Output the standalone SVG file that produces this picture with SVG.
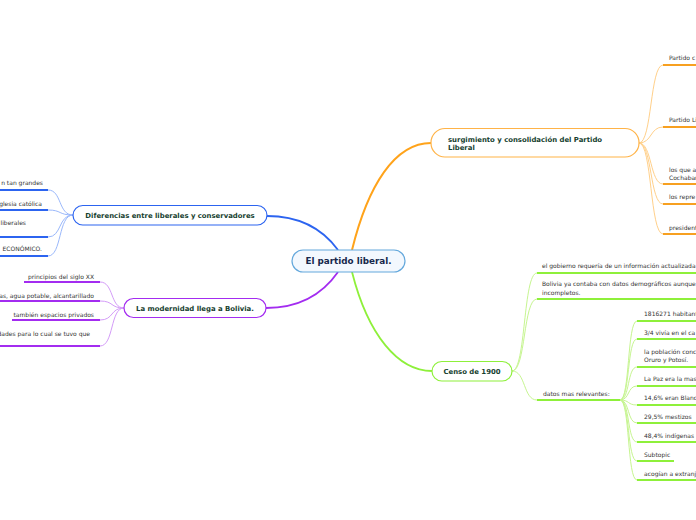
<svg xmlns="http://www.w3.org/2000/svg" width="696" height="520" viewBox="0 0 696 520">
<style>
.t{font-family:"DejaVu Sans",Verdana,sans-serif;font-size:6px;fill:#333}
.tb{font-family:"DejaVu Sans",Verdana,sans-serif;font-size:6.9px;font-weight:bold;fill:#15402e}
.cb{fill:none;stroke:#9ab8fb;stroke-width:1}
.ub{stroke:#2c64f0;stroke-width:2}
.cp{fill:none;stroke:#d49cf8;stroke-width:1}
.up{stroke:#a32cf0;stroke-width:2}
.co{fill:none;stroke:#ffd08a;stroke-width:1}
.uo{stroke:#f7a020;stroke-width:2}
.cg{fill:none;stroke:#c6f590;stroke-width:1}
.ug{stroke:#8ef03a;stroke-width:2}
</style>
<rect width="696" height="520" fill="#fff"/>
<g id="connectors">
  <path d="M338,250 C322,228 300,216 267,216" fill="none" stroke="#2c64f0" stroke-width="1.8"/>
  <path d="M352,250 C368,185 395,143 431,143" fill="none" stroke="#ffa31a" stroke-width="2"/>
  <path d="M338,272 C322,295 298,308 266,308" fill="none" stroke="#a32cf0" stroke-width="1.8"/>
  <path d="M352,272 C368,335 398,371 432,371" fill="none" stroke="#8ef03a" stroke-width="1.8"/>
  <!-- blue -->
  <path class="cb" d="M73,215 C58,215 62,190 48,190"/>
  <path class="cb" d="M73,215 C58,215 62,210 48,210"/>
  <path class="cb" d="M73,215 C58,215 62,237 48,237"/>
  <path class="cb" d="M73,215 C58,215 62,256 48,256"/>
  <line class="ub" x1="0" y1="190" x2="48" y2="190"/>
  <line class="ub" x1="0" y1="210" x2="48" y2="210"/>
  <line class="ub" x1="0" y1="237" x2="48" y2="237"/>
  <line class="ub" x1="0" y1="256" x2="48" y2="256"/>
  <!-- purple -->
  <path class="cp" d="M124,308 C110,308 114,282 100,282"/>
  <path class="cp" d="M124,308 C110,308 114,301 100,301"/>
  <path class="cp" d="M124,308 C110,308 114,320 100,320"/>
  <path class="cp" d="M124,308 C110,308 114,346 100,346"/>
  <line class="up" x1="24" y1="282" x2="100" y2="282"/>
  <line class="up" x1="0" y1="301" x2="100" y2="301"/>
  <line class="up" x1="12" y1="320" x2="100" y2="320"/>
  <line class="up" x1="0" y1="346" x2="100" y2="346"/>
  <!-- orange -->
  <path class="co" d="M639,143 C652,143 650,65 663,65"/>
  <path class="co" d="M639,143 C652,143 650,127 663,127"/>
  <path class="co" d="M639,143 C652,143 650,184 663,184"/>
  <path class="co" d="M639,143 C652,143 650,204 663,204"/>
  <path class="co" d="M639,143 C652,143 650,234 663,234"/>
  <line class="uo" x1="663" y1="65" x2="696" y2="65"/>
  <line class="uo" x1="663" y1="127" x2="696" y2="127"/>
  <line class="uo" x1="663" y1="184" x2="696" y2="184"/>
  <line class="uo" x1="663" y1="204" x2="696" y2="204"/>
  <line class="uo" x1="663" y1="234" x2="696" y2="234"/>
  <!-- green -->
  <path class="cg" d="M512,371 C526,371 523,273 537,273"/>
  <path class="cg" d="M512,371 C526,371 523,299 537,299"/>
  <path class="cg" d="M512,371 C526,371 523,400 537,400"/>
  <line class="ug" x1="537" y1="273" x2="696" y2="273"/>
  <line class="ug" x1="537" y1="299" x2="696" y2="299"/>
  <line class="ug" x1="537" y1="400" x2="620" y2="400"/>
  <path class="cg" d="M620,400 C630,400 627,321 637,321"/>
  <path class="cg" d="M620,400 C630,400 627,339 637,339"/>
  <path class="cg" d="M620,400 C630,400 627,367 637,367"/>
  <path class="cg" d="M620,400 C630,400 627,386 637,386"/>
  <path class="cg" d="M620,400 C630,400 627,405 637,405"/>
  <path class="cg" d="M620,400 C630,400 627,423 637,423"/>
  <path class="cg" d="M620,400 C630,400 627,442 637,442"/>
  <path class="cg" d="M620,400 C630,400 627,461 637,461"/>
  <path class="cg" d="M620,400 C630,400 627,480 637,480"/>
  <line class="ug" x1="637" y1="321" x2="696" y2="321"/>
  <line class="ug" x1="637" y1="339" x2="696" y2="339"/>
  <line class="ug" x1="637" y1="367" x2="696" y2="367"/>
  <line class="ug" x1="637" y1="386" x2="696" y2="386"/>
  <line class="ug" x1="637" y1="405" x2="696" y2="405"/>
  <line class="ug" x1="637" y1="423" x2="696" y2="423"/>
  <line class="ug" x1="637" y1="442" x2="696" y2="442"/>
  <line class="ug" x1="637" y1="461" x2="674" y2="461"/>
  <line class="ug" x1="637" y1="480" x2="696" y2="480"/>
</g>
<g id="central">
  <rect x="292" y="250" width="113" height="22" rx="11" fill="#f3f8fe" stroke="#64a8dc" stroke-width="1.2"/>
  <text x="348.5" y="264.3" text-anchor="middle" style="font-family:'DejaVu Sans',Verdana,sans-serif;font-size:8.8px;font-weight:bold;fill:#16284d">El partido liberal.</text>
</g>
<g id="surgimiento">
  <rect x="431" y="128.5" width="208" height="28.5" rx="14" fill="#fff" stroke="#ffb347" stroke-width="1.2"/>
  <text class="tb" x="448" y="141.5">surgimiento y consolidación del Partido</text>
  <text class="tb" x="448" y="150">Liberal</text>
</g>
<g id="diferencias">
  <rect x="73" y="205.5" width="194" height="19.5" rx="9.75" fill="#fff" stroke="#2c64f0" stroke-width="1.2"/>
  <text class="tb" x="170" y="217.8" text-anchor="middle">Diferencias entre liberales y conservadores</text>
</g>
<g id="modernidad">
  <rect x="124" y="298.5" width="142" height="19" rx="9.5" fill="#fff" stroke="#a32cf0" stroke-width="1.2"/>
  <text class="tb" x="195" y="310.6" text-anchor="middle">La modernidad llega a Bolivia.</text>
</g>
<g id="censo">
  <rect x="432" y="361.5" width="80" height="19.5" rx="9.75" fill="#fff" stroke="#8ef03a" stroke-width="1.2"/>
  <text class="tb" x="472" y="373.7" text-anchor="middle">Censo de 1900</text>
</g>
<g id="dif-subtopics">
  <text class="t" x="43" y="185" text-anchor="end">n tan grandes</text>
  <text class="t" x="42" y="205.5" text-anchor="end">glesia católica</text>
  <text class="t" x="26" y="225" text-anchor="end">liberales</text>
  <text class="t" x="42" y="250.5" text-anchor="end">ECONÓMICO.</text>
</g>
<g id="mod-subtopics">
  <text class="t" x="94" y="279" text-anchor="end">principios del siglo XX</text>
  <text class="t" x="94" y="298" text-anchor="end">as, agua potable, alcantarillado</text>
  <text class="t" x="94" y="317" text-anchor="end">también espacios privados</text>
  <text class="t" x="90" y="336" text-anchor="end">dades para lo cual se tuvo que</text>
</g>
<g id="surg-subtopics">
  <text class="t" x="669" y="60">Partido c</text>
  <text class="t" x="669" y="122">Partido Li</text>
  <text class="t" x="669" y="172">los que a</text>
  <text class="t" x="669" y="180">Cochabam</text>
  <text class="t" x="669" y="199">los repre</text>
  <text class="t" x="669" y="230">president</text>
</g>
<g id="censo-subtopics">
  <text class="t" x="542" y="268">el gobierno requería de un información actualizada</text>
  <text class="t" x="542" y="286">Bolivia ya contaba con datos demográficos aunque</text>
  <text class="t" x="542" y="295">incompletos.</text>
  <text class="t" x="543" y="396">datos mas relevantes:</text>
</g>
<g id="datos-subtopics">
  <text class="t" x="644" y="316">1816271 habitant</text>
  <text class="t" x="644" y="335">3/4 vivía en el ca</text>
  <text class="t" x="644" y="354">la población conc</text>
  <text class="t" x="644" y="362">Oruro y Potosí.</text>
  <text class="t" x="644" y="381">La Paz era la mas</text>
  <text class="t" x="644" y="400">14,6% eran Blanc</text>
  <text class="t" x="644" y="419">29,5% mestizos</text>
  <text class="t" x="644" y="438">48,4% indígenas</text>
  <text class="t" x="644" y="457">Subtopic</text>
  <text class="t" x="644" y="476">acogían a extranj</text>
</g>
</svg>
